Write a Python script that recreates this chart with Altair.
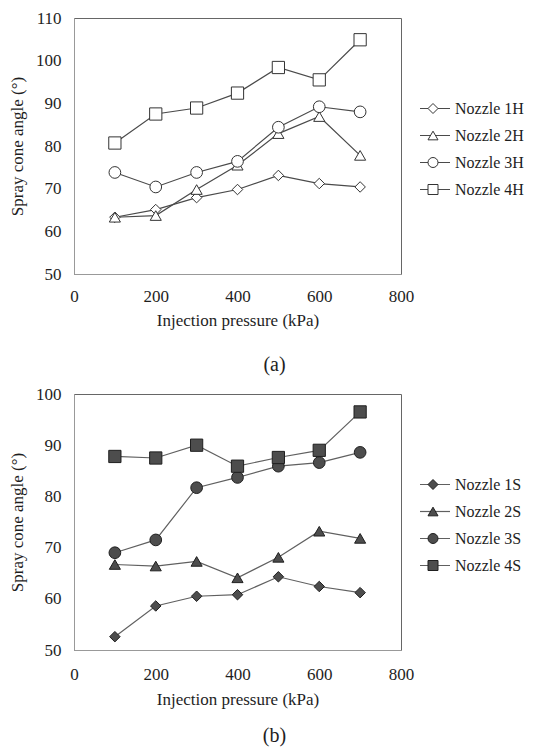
import altair as alt
import pandas as pd

pressure = [100, 200, 300, 400, 500, 600, 700]

names_a = ["Nozzle 1H", "Nozzle 2H", "Nozzle 3H", "Nozzle 4H"]
n1H = [63.3, 65.1, 67.9, 69.8, 73.1, 71.2, 70.4]
n2H = [63.3, 63.7, 69.8, 75.5, 82.9, 86.9, 77.8]
n3H = [73.8, 70.4, 73.8, 76.4, 84.4, 89.2, 88.0]
n4H = [80.7, 87.5, 88.9, 92.4, 98.4, 95.5, 104.9]

names_b = ["Nozzle 1S", "Nozzle 2S", "Nozzle 3S", "Nozzle 4S"]
n1S = [52.6, 58.6, 60.5, 60.8, 64.3, 62.4, 61.2]
n2S = [66.7, 66.4, 67.3, 64.1, 68.1, 73.2, 71.8]
n3S = [69.0, 71.5, 81.7, 83.7, 85.9, 86.6, 88.6]
n4S = [87.8, 87.5, 90.0, 85.9, 87.6, 89.0, 96.5]

x_ticks = [0, 200, 400, 600, 800]
y_ticks_a = [50, 60, 70, 80, 90, 100, 110]
y_ticks_b = [50, 60, 70, 80, 90, 100]

FONT = "Liberation Serif, Times New Roman, serif"
TXT = "#1e1e1e"

shapes = ["diamond", "triangle-up", "circle", "square"]
sizes = [110, 150, 165, 110]


def make_df(names, series, tag):
    rows = []
    for i, (nm, vals) in enumerate(zip(names, series)):
        for p, v in zip(pressure, vals):
            rows.append({"pressure": p, "angle": v, "nozzle": nm,
                         "marker": f"{tag}m{i}", "msize": f"{tag}s{i}"})
    return pd.DataFrame(rows)


def marker_legend(fill):
    return alt.Legend(
        title=None, orient="none", legendX=351, legendY=82, padding=0,
        labelExpr="''", labelFontSize=16,
        labelOffset=0, rowPadding=10, clipHeight=17,
        symbolSize=100, symbolFillColor=fill,
        symbolStrokeWidth=1, symbolOpacity=1, zindex=1)


def panel(df, names, tag, y_ticks, caption, cap_offset, lab_pad, tit_pad,
          line_color, fill, stroke):
    markers = [f"{tag}m{i}" for i in range(len(names))]
    msizes = [f"{tag}s{i}" for i in range(len(names))]
    x = alt.X("pressure:Q", scale=alt.Scale(domain=[0, 800], nice=False),
              axis=alt.Axis(values=x_ticks, title="Injection pressure (kPa)", labelPadding=lab_pad,
                            titlePadding=tit_pad, labelFlush=False, labelFont=FONT, titleFont=FONT))
    y = alt.Y("angle:Q", scale=alt.Scale(domain=[y_ticks[0], y_ticks[-1]], nice=False, zero=False),
              axis=alt.Axis(values=y_ticks, title="Spray cone angle (°)", labelPadding=13,
                            titlePadding=9, labelFlush=False, labelFont=FONT, titleFont=FONT))
    base = alt.Chart(df)
    lines = base.mark_line(strokeWidth=1.2).encode(
        x=x, y=y,
        color=alt.Color("nozzle:N", scale=alt.Scale(domain=names, range=[line_color] * 4),
                        legend=alt.Legend(
                            title=None, orient="none", legendX=345, legendY=82, padding=0,
                            labelFont=FONT, labelFontSize=16, labelColor=TXT, labelLimit=80,
                            labelOffset=4, rowPadding=10, clipHeight=17,
                            symbolType="stroke", symbolSize=900, symbolStrokeWidth=1.2,
                            symbolStrokeColor=line_color, zindex=0)),
    )
    pts = base.mark_point(filled=True, fill=fill, strokeWidth=1, opacity=1).encode(
        x=x, y=y,
        shape=alt.Shape("marker:N", scale=alt.Scale(domain=markers, range=shapes),
                        legend=marker_legend(fill)),
        stroke=alt.Stroke("marker:N", scale=alt.Scale(domain=markers, range=[stroke] * 4),
                          legend=marker_legend(fill)),
        size=alt.Size("msize:N", scale=alt.Scale(domain=msizes, range=sizes), legend=None),
    )
    return alt.layer(lines, pts).properties(
        width=327, height=256,
        title=alt.TitleParams(caption, orient="bottom", anchor="middle", frame="group",
                              offset=cap_offset, dx=37, fontSize=20, font=FONT,
                              fontWeight="normal", color=TXT),
    )


df_a = make_df(names_a, [n1H, n2H, n3H, n4H], "a")
df_b = make_df(names_b, [n1S, n2S, n3S, n4S], "b")

pa = panel(df_a, names_a, "a", y_ticks_a, "(a)", 27, 14, 8, "#4a4a4a", "white", "#333333")
pb = panel(df_b, names_b, "b", y_ticks_b, "(b)", 19, 16, 9, "#606060", "#4d4d4d", "#1f1f1f")

chart = alt.vconcat(pa, pb, spacing=8).resolve_scale(
    x="independent", y="independent", shape="independent", size="independent",
    color="independent", stroke="independent"
).resolve_legend(shape="independent", color="independent", stroke="independent").properties(
    padding={"left": 0, "top": 0, "right": 0, "bottom": 0}
).configure_view(stroke="#666666", strokeWidth=1).configure_axis(
    grid=False, ticks=False, tickSize=0, domain=True, domainColor="#999999",
    labelFont=FONT, labelFontSize=17, labelColor=TXT,
    titleFont=FONT, titleFontSize=17, titleColor=TXT, titleFontWeight="normal",
)

chart.save("out.html", embed_options={"renderer": "svg", "actions": False})
